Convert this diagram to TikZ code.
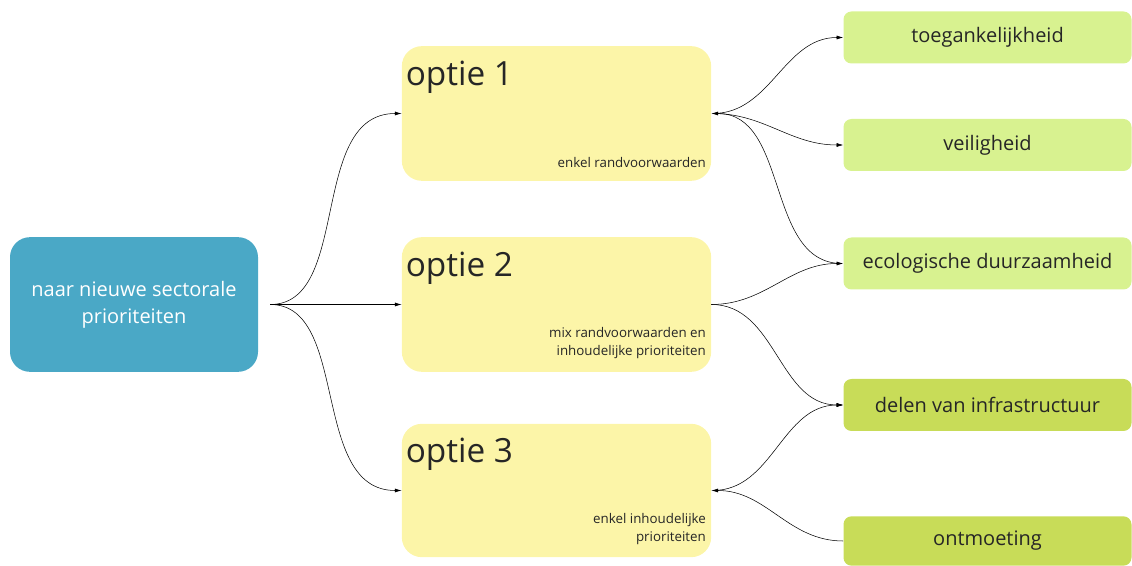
\documentclass[tikz,border=0pt]{standalone}
\usepackage{fontspec}
\setmainfont{Open Sans}
\usepackage{xcolor}
\usepackage{tikz}
\usetikzlibrary{calc}
\usetikzlibrary{arrows.meta,positioning}
\definecolor{RootBlue}{HTML}{4AA8C6}
\definecolor{OptYellow}{HTML}{FCF5A8}
\definecolor{DoelLicht}{HTML}{D8F290}
\definecolor{DoelDonker}{HTML}{C8DC58}
\definecolor{Tekst}{HTML}{262626}
\tikzset{%Global config
	>={Latex[length=5pt,width=3pt]},
	color = black ,
	%Styles
	Root/.style={
		fill=RootBlue,
		rounded corners=15pt,
		minimum width=186pt,
		minimum height=101pt,
		text=white,
		align=center,
		font=\fontsize{15}{20}\selectfont,
	},
	Optie/.style={
		fill=OptYellow,
		rounded corners=15pt,
		minimum width=232pt,
		minimum height=101pt,
	},
	Titel/.style={
		text=Tekst,
		inner sep=0pt,
		font=\fontsize{25}{30}\selectfont,
	},
	Sub/.style={
		text=Tekst,
		inner sep=0pt,
		align=right,
		font=\fontsize{10}{13.5}\selectfont,
	},
	Doel/.style={
		fill=DoelLicht,
		rounded corners=6pt,
		minimum width=216pt,
		minimum height=39pt,
		text=Tekst,
		font=\fontsize{15}{18}\selectfont,
	},
	DoelB/.style={
		Doel,
		fill=DoelDonker,
	},
	Pijl/.style={
		->,
		line width=0.4pt,
		out=0, in=180,
	}
}
\begin{document}
\begin{tikzpicture}[x=0.75pt,y=-0.75pt]
		\useasboundingbox (0,0) rectangle (1132,566);
		% Root node
		\node[Root] (root) at (134,304.5) {naar nieuwe sectorale\\prioriteiten};
		
		% Options
		\node[Optie] (o1) at (556.5,113.5) {};
		\node[Optie] (o2) at (556.5,304.5) {};
		\node[Optie, minimum height=100pt] (o3) at (556.5,490.5) {};
		\node[Titel, anchor=north west] (o1t) at ([xshift=3pt,yshift=-11pt]o1.north west) {optie 1};
		\node[Titel, anchor=north west] (o2t) at ([xshift=3pt,yshift=-11pt]o2.north west) {optie 2};
		\node[Titel, anchor=north west] (o3t) at ([xshift=3pt,yshift=-11pt]o3.north west) {optie 3};
		\node[Sub, anchor=south east] (o1s) at ([xshift=-4pt,yshift=10pt]o1.south east) {enkel randvoorwaarden};
		\node[Sub, anchor=south east] (o2s) at ([xshift=-4pt,yshift=10pt]o2.south east) {mix randvoorwaarden en\\inhoudelijke prioriteiten};
		\node[Sub, anchor=south east] (o3s) at ([xshift=-4pt,yshift=9pt]o3.south east) {enkel inhoudelijke\\prioriteiten};
		
		% Goals
		\node[Doel] (toeg) at (987.5,37.5) {toegankelijkheid};
		\node[Doel] (veil) at (987.5,145) {veiligheid};
		\node[Doel] (eco) at (987.5,263.5) {ecologische duurzaamheid};
		\node[DoelB] (delen) at (987.5,405) {delen van infrastructuur};
		\node[DoelB, minimum height=37pt] (ontm) at (987.5,541) {ontmoeting};
		
		% Connectors
		\draw[Pijl, shorten <=9pt] (root.east) to (o1.west);
		\draw[Pijl, shorten <=9pt] (root.east) to (o2.west);
		\draw[Pijl, shorten <=9pt] (root.east) to (o3.west);
		\draw[Pijl, shorten <=1pt] (o1.east) to (toeg.west);
		\draw[Pijl, shorten <=1pt] (o1.east) to (veil.west);
		\draw[Pijl, out=180, in=0, shorten <=1pt] (eco.west) to (o1.east);
		\draw[Pijl] (o2.east) to (eco.west);
		\draw[Pijl] (o2.east) to (delen.west);
		\draw[Pijl, shorten <=1pt] (o3.east) to (delen.west);
		\draw[Pijl, out=180, in=0] (ontm.west) to (o3.east);
	\end{tikzpicture}
\end{document}
